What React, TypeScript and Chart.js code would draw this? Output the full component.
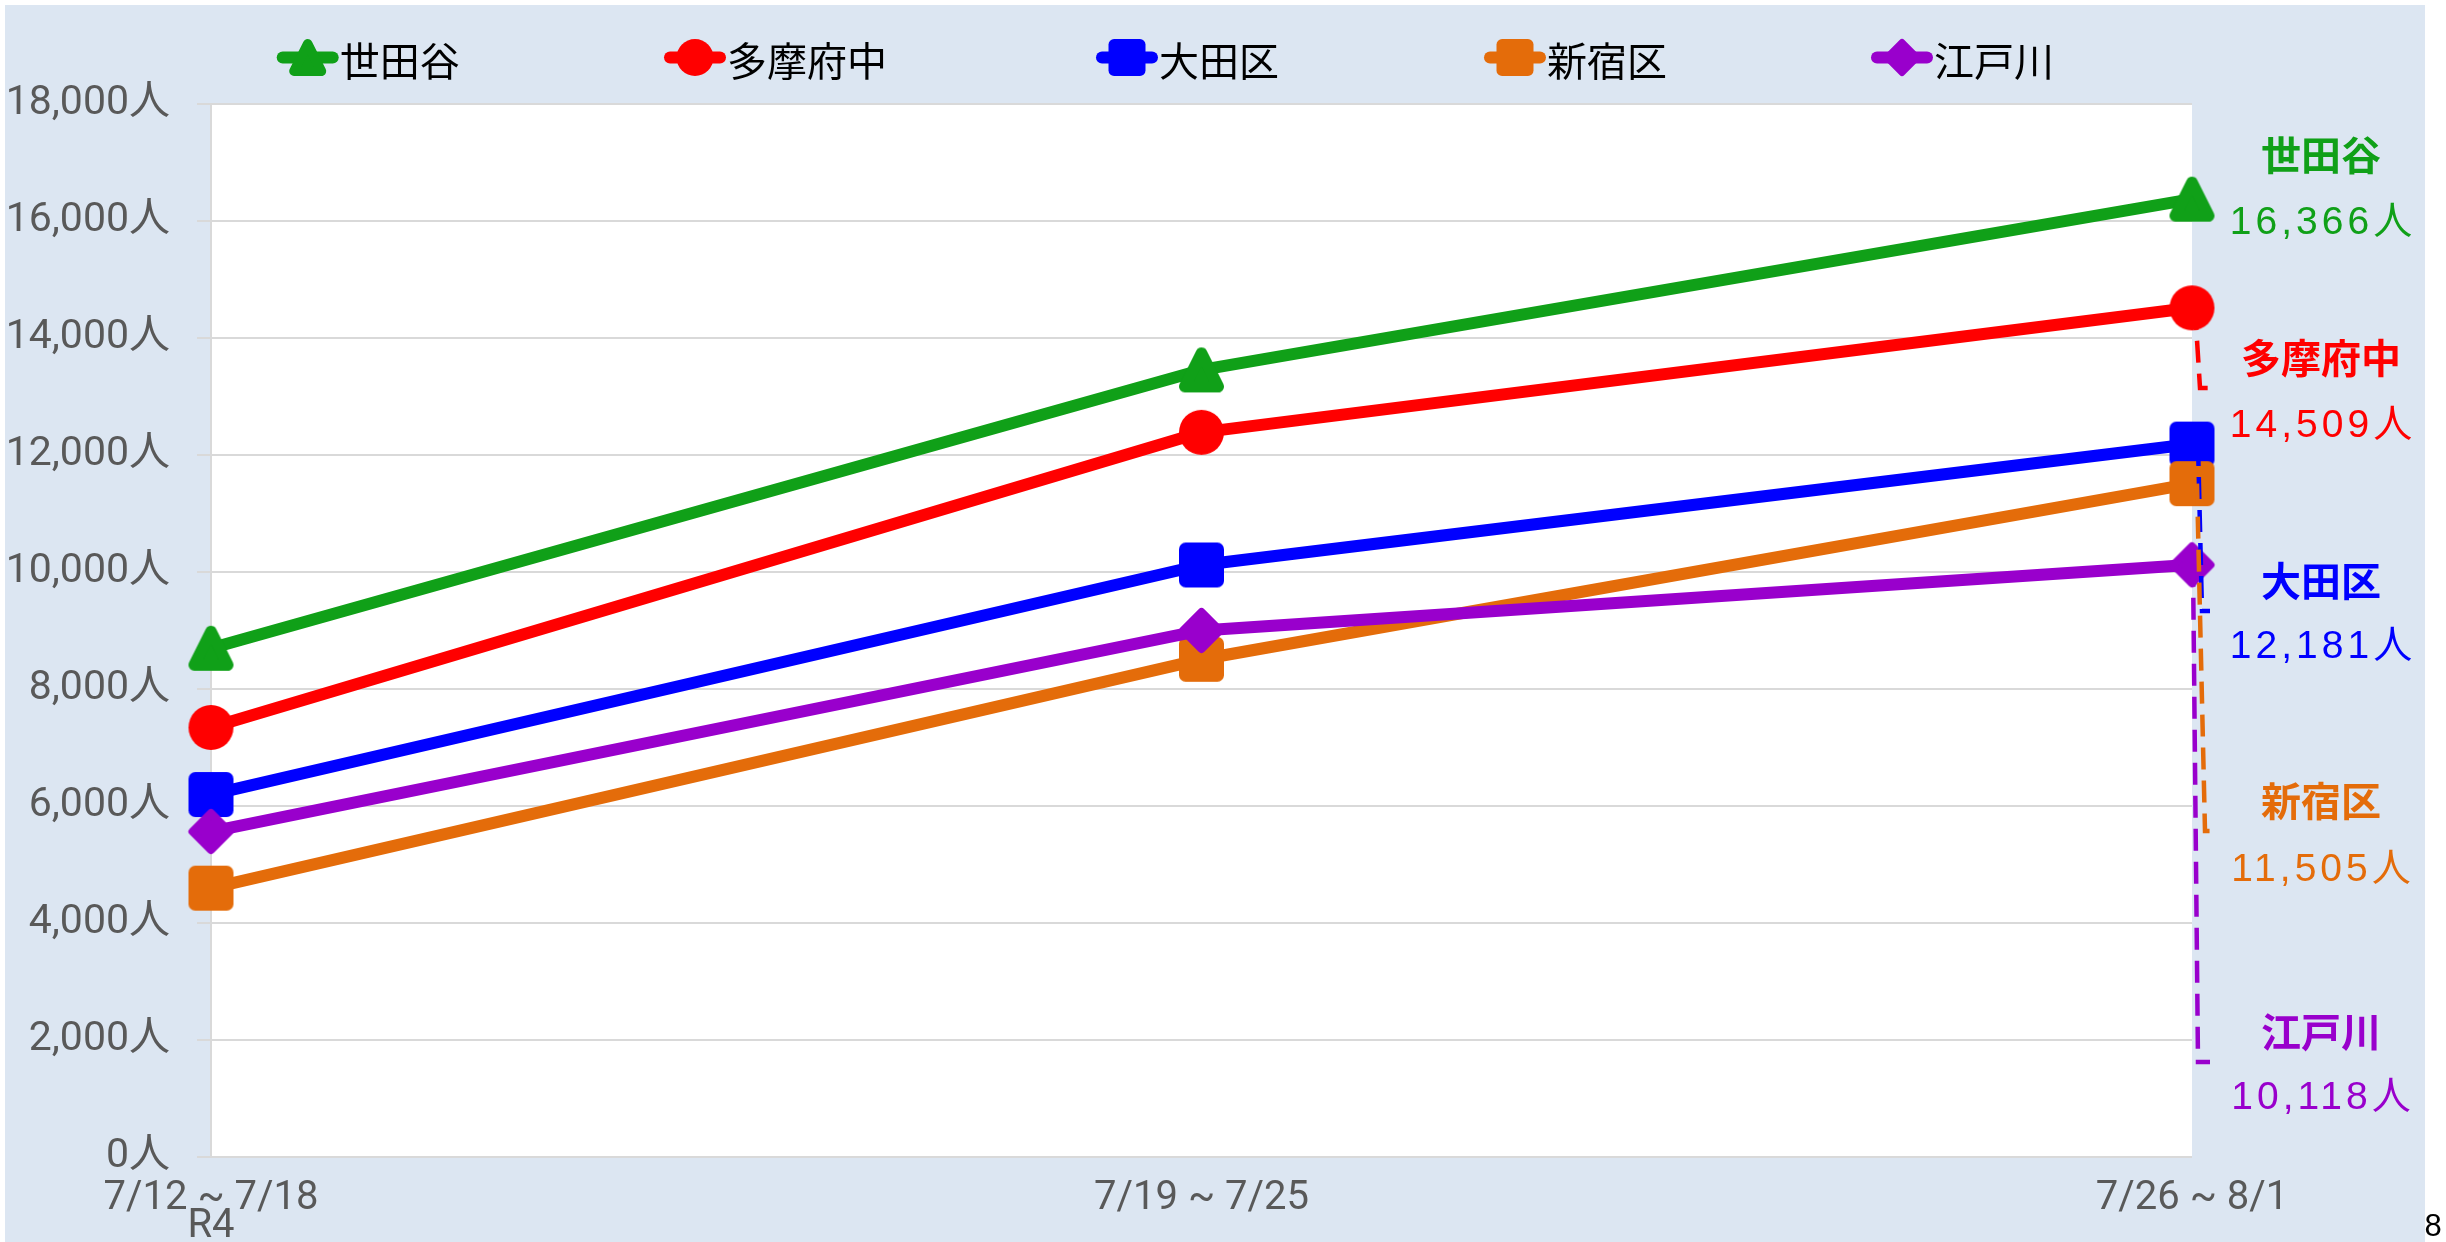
import React, { useEffect, useRef } from 'react';
import { Chart, registerables } from 'chart.js';

Chart.register(...registerables);

// ---- data ----
const categories = ['7/12 ~ 7/18', '7/19 ~ 7/25', '7/26 ~ 8/1'];
const eraLabel = 'R4';
const seriesNames = ['世田谷', '多摩府中', '大田区', '新宿区', '江戸川'];
const setagaya = [8692, 13448, 16366];
const tamaFuchu = [7339, 12381, 14509];
const ota = [6193, 10115, 12181];
const shinjuku = [4593, 8504, 11505];
const edogawa = [5561, 8996, 10118];
const yMin = 0;
const yMax = 18000;
const yStep = 2000;
const pageNumber = '8';

const allSeries = [setagaya, tamaFuchu, ota, shinjuku, edogawa];
const colors = ['#10a018', '#ff0000', '#0000ff', '#e46c0a', '#9900cc'];
const shapes = ['triangle', 'circle', 'square', 'square', 'diamond'];

const W = 2446;
const H = 1242;

const fmt = (n: number) => String(n).replace(/\B(?=(\d{3})+(?!\d))/g, ',');

function drawMarker(ctx: CanvasRenderingContext2D, shape: string, cx: number, cy: number, size: number, color: string) {
  const h = size / 2;
  ctx.save();
  ctx.fillStyle = color;
  ctx.strokeStyle = color;
  ctx.lineJoin = 'round';
  ctx.beginPath();
  if (shape === 'circle') {
    ctx.arc(cx, cy, h, 0, Math.PI * 2);
    ctx.fill();
  } else if (shape === 'square') {
    ctx.roundRect(cx - h, cy - h, size, size, size * 0.15);
    ctx.fill();
  } else if (shape === 'triangle') {
    const j = size * 0.13;
    ctx.lineWidth = 2 * j;
    ctx.moveTo(cx, cy - h + j);
    ctx.lineTo(cx + h - j, cy + h - j);
    ctx.lineTo(cx - h + j, cy + h - j);
    ctx.closePath();
    ctx.fill();
    ctx.stroke();
  } else {
    const j = size * 0.09;
    ctx.lineWidth = 2 * j;
    ctx.moveTo(cx, cy - h + j);
    ctx.lineTo(cx + h - j, cy);
    ctx.lineTo(cx, cy + h - j);
    ctx.lineTo(cx - h + j, cy);
    ctx.closePath();
    ctx.fill();
    ctx.stroke();
  }
  ctx.restore();
}

function makeMarkerCanvas(shape: string, color: string, size: number) {
  const c = document.createElement('canvas');
  const s = Math.ceil(size) + 4;
  c.width = s;
  c.height = s;
  const ctx = c.getContext('2d')!;
  drawMarker(ctx, shape, s / 2, s / 2, size, color);
  return c;
}

// layout for annotation text (page pixels)
const legendCenters = [307.7, 695, 1127, 1515, 1902];
const legendY = 57.5;
const labelCenterX = 2321;
const nameY = [155, 358, 581, 801, 1032];
const valueY = [223, 426, 647, 870, 1098];
// leader line x offsets from the last category pixel: [start, bend, tick end]
const leaderX = [null, [3, 8, 23], [6, 10, 18], [5, 13, 25], [1, 6, 18]];

const TICK_FONT = 'Roboto, "Noto Sans CJK JP", sans-serif';
const CJK_FONT = '"Noto Sans CJK JP", sans-serif';

export default function App() {
  const ref = useRef<HTMLCanvasElement>(null);

  useEffect(() => {
    const canvas = ref.current!;
    const markerImgs = shapes.map((s, i) => makeMarkerCanvas(s, colors[i], 45));

    const bgPlugin = {
      id: 'bg',
      beforeDraw(chart: any) {
        const { ctx, chartArea } = chart;
        ctx.save();
        ctx.fillStyle = '#ffffff';
        ctx.fillRect(0, 0, W, H);
        ctx.fillStyle = '#dce6f2';
        ctx.fillRect(5, 5, 2420, H - 5);
        ctx.fillStyle = '#ffffff';
        ctx.fillRect(chartArea.left, chartArea.top, chartArea.right - chartArea.left, chartArea.bottom - chartArea.top);
        ctx.restore();
      },
    };

    const leaderPlugin = {
      id: 'leaders',
      afterDatasetsDraw(chart: any) {
        const ctx = chart.ctx;
        const xs = chart.scales.x;
        const ys = chart.scales.y;
        const last = categories.length - 1;
        const xR = xs.getPixelForValue(last);
        allSeries.forEach((s, i) => {
          const lx = leaderX[i];
          if (!lx) return;
          const y0 = ys.getPixelForValue(s[last]);
          const endY = nameY[i] + 30;
          ctx.save();
          ctx.strokeStyle = colors[i];
          ctx.lineWidth = 4.5;
          ctx.setLineDash([22, 11]);
          ctx.beginPath();
          ctx.moveTo(xR + lx[0], y0);
          ctx.lineTo(xR + lx[1], endY);
          ctx.lineTo(xR + lx[2], endY);
          ctx.stroke();
          ctx.restore();
        });
      },
    };

    const annotPlugin = {
      id: 'annot',
      afterDraw(chart: any) {
        const ctx = chart.ctx as CanvasRenderingContext2D;
        const last = categories.length - 1;
        // legend
        seriesNames.forEach((name, i) => {
          const cx = legendCenters[i];
          ctx.save();
          ctx.strokeStyle = colors[i];
          ctx.lineWidth = 12;
          ctx.lineCap = 'round';
          ctx.beginPath();
          ctx.moveTo(cx - 25, legendY);
          ctx.lineTo(cx + 25, legendY);
          ctx.stroke();
          ctx.restore();
          drawMarker(ctx, shapes[i], cx, legendY, 37, colors[i]);
          ctx.save();
          ctx.fillStyle = '#000000';
          ctx.font = `40px ${CJK_FONT}`;
          ctx.textAlign = 'left';
          ctx.textBaseline = 'middle';
          ctx.fillText(name, cx + 32, legendY + 3);
          ctx.restore();
        });
        // right-hand labels
        seriesNames.forEach((name, i) => {
          ctx.save();
          ctx.fillStyle = colors[i];
          ctx.textAlign = 'center';
          ctx.textBaseline = 'middle';
          ctx.font = `bold 40px ${CJK_FONT}`;
          ctx.fillText(name, labelCenterX, nameY[i]);
          ctx.font = `39px "Liberation Sans", ${CJK_FONT}`;
          (ctx as any).letterSpacing = '4px';
          ctx.fillText(fmt(allSeries[i][last]) + '人', labelCenterX + 2, valueY[i]);
          ctx.restore();
        });
        // page number
        ctx.save();
        ctx.fillStyle = '#000000';
        ctx.font = '31px "Liberation Sans", sans-serif';
        ctx.textAlign = 'center';
        ctx.textBaseline = 'middle';
        ctx.fillText(pageNumber, 2433, 1227);
        ctx.restore();
      },
    };

    const n = allSeries.length;
    const chart = new Chart(canvas, {
      type: 'line',
      data: {
        labels: categories,
        datasets: allSeries.map((s, i) => ({
          label: seriesNames[i],
          data: s,
          borderColor: colors[i],
          backgroundColor: colors[i],
          borderWidth: 12,
          borderJoinStyle: 'round',
          borderCapStyle: 'round',
          pointStyle: markerImgs[i] as any,
          pointRadius: 22,
          pointHoverRadius: 22,
          tension: 0,
          clip: false as any,
          order: n - i,
        })),
      },
      options: {
        responsive: false,
        animation: false,
        devicePixelRatio: 1,
        events: [],
        layout: { padding: { top: 103.5, right: 254, bottom: 0, left: 0 } },
        plugins: {
          legend: { display: false },
          tooltip: { enabled: false },
          title: { display: false },
        },
        scales: {
          x: {
            type: 'category',
            offset: false,
            grid: { display: false, drawTicks: false },
            border: { display: false },
            ticks: {
              color: '#595959',
              font: { family: TICK_FONT, size: 40, lineHeight: '28px' as any },
              padding: 28,
              maxRotation: 0,
              minRotation: 0,
              autoSkip: false,
              callback: (_v: any, idx: number) => (idx === 0 ? [categories[0], eraLabel] : categories[idx]),
            },
            afterFit: (s: any) => {
              s.height = 85;
            },
          },
          y: {
            min: yMin,
            max: yMax,
            grid: { color: '#d9d9d9', lineWidth: 2, drawTicks: true, tickLength: 14, tickColor: '#d9d9d9' },
            border: { display: true, color: '#d9d9d9', width: 2 },
            ticks: {
              stepSize: yStep,
              color: '#595959',
              font: { family: TICK_FONT, size: 41 },
              padding: 27,
              callback: (v: any) => fmt(Number(v)) + '人',
            },
            afterFit: (s: any) => {
              s.width = 211;
            },
          },
        },
      },
      plugins: [bgPlugin, leaderPlugin, annotPlugin],
    } as any);

    return () => chart.destroy();
  }, []);

  return (
    <div style={{ position: 'fixed', left: 0, top: 0, width: W, height: H }}>
      <canvas ref={ref} width={W} height={H} style={{ display: 'block', width: W, height: H }} />
    </div>
  );
}
